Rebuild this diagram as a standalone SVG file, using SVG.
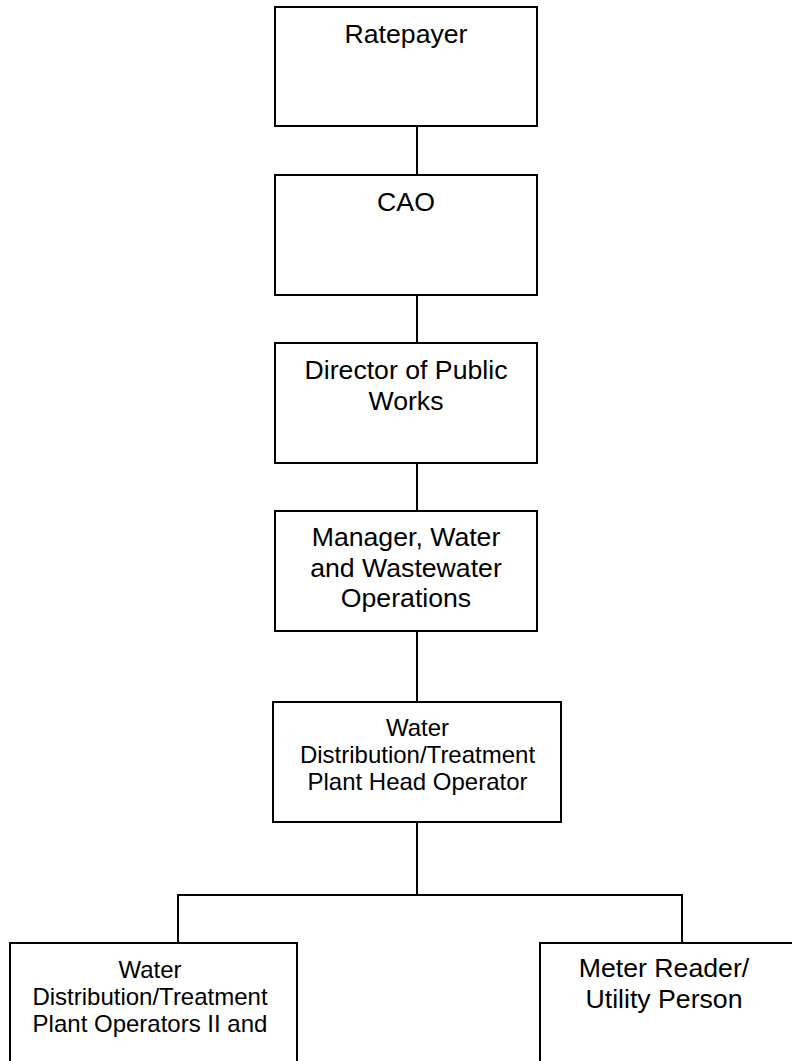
<svg xmlns="http://www.w3.org/2000/svg" width="792" height="1061" viewBox="0 0 792 1061">
<style>
.box{fill:#ffffff;stroke:#000000;stroke-width:2}
.big{font-family:"Liberation Sans",Arial,sans-serif;font-size:26.67px;fill:#000000;text-anchor:middle}
.small{font-family:"Liberation Sans",Arial,sans-serif;font-size:24px;fill:#000000;text-anchor:middle}
.conn{fill:none;stroke:#000000;stroke-width:2}
</style>
<rect width="792" height="1061" fill="#ffffff"/>
<g id="connectors">
<line class="conn" x1="417" y1="126" x2="417" y2="175"/>
<line class="conn" x1="417" y1="295" x2="417" y2="343"/>
<line class="conn" x1="417" y1="463" x2="417" y2="511"/>
<line class="conn" x1="417" y1="631" x2="417" y2="702"/>
<line class="conn" x1="417" y1="822" x2="417" y2="895"/>
<polyline class="conn" points="178,943 178,895 682,895 682,943"/>
</g>
<g id="ratepayer">
<rect class="box" x="275" y="7" width="262" height="119"/>
<text class="big" x="406" y="43">Ratepayer</text>
</g>
<g id="cao">
<rect class="box" x="275" y="175" width="262" height="120"/>
<text class="big" x="406" y="211">CAO</text>
</g>
<g id="director">
<rect class="box" x="275" y="343" width="262" height="120"/>
<text class="big" x="406" y="379">Director of Public</text>
<text class="big" x="406" y="410">Works</text>
</g>
<g id="manager">
<rect class="box" x="275" y="511" width="262" height="120"/>
<text class="big" x="406" y="546">Manager, Water</text>
<text class="big" x="406" y="577">and Wastewater</text>
<text class="big" x="406" y="607">Operations</text>
</g>
<g id="head-operator">
<rect class="box" x="273" y="702" width="288" height="120"/>
<text class="small" x="417.5" y="736">Water</text>
<text class="small" x="417.5" y="763">Distribution/Treatment</text>
<text class="small" x="417.5" y="790">Plant Head Operator</text>
</g>
<g id="operators">
<rect class="box" x="10" y="943" width="287" height="130"/>
<text class="small" x="150" y="978">Water</text>
<text class="small" x="150" y="1005">Distribution/Treatment</text>
<text class="small" x="150" y="1032">Plant Operators II and</text>
</g>
<g id="meter-reader">
<rect class="box" x="540" y="943" width="270" height="130"/>
<text class="big" x="664" y="977">Meter Reader/</text>
<text class="big" x="664" y="1008">Utility Person</text>
</g>
</svg>
